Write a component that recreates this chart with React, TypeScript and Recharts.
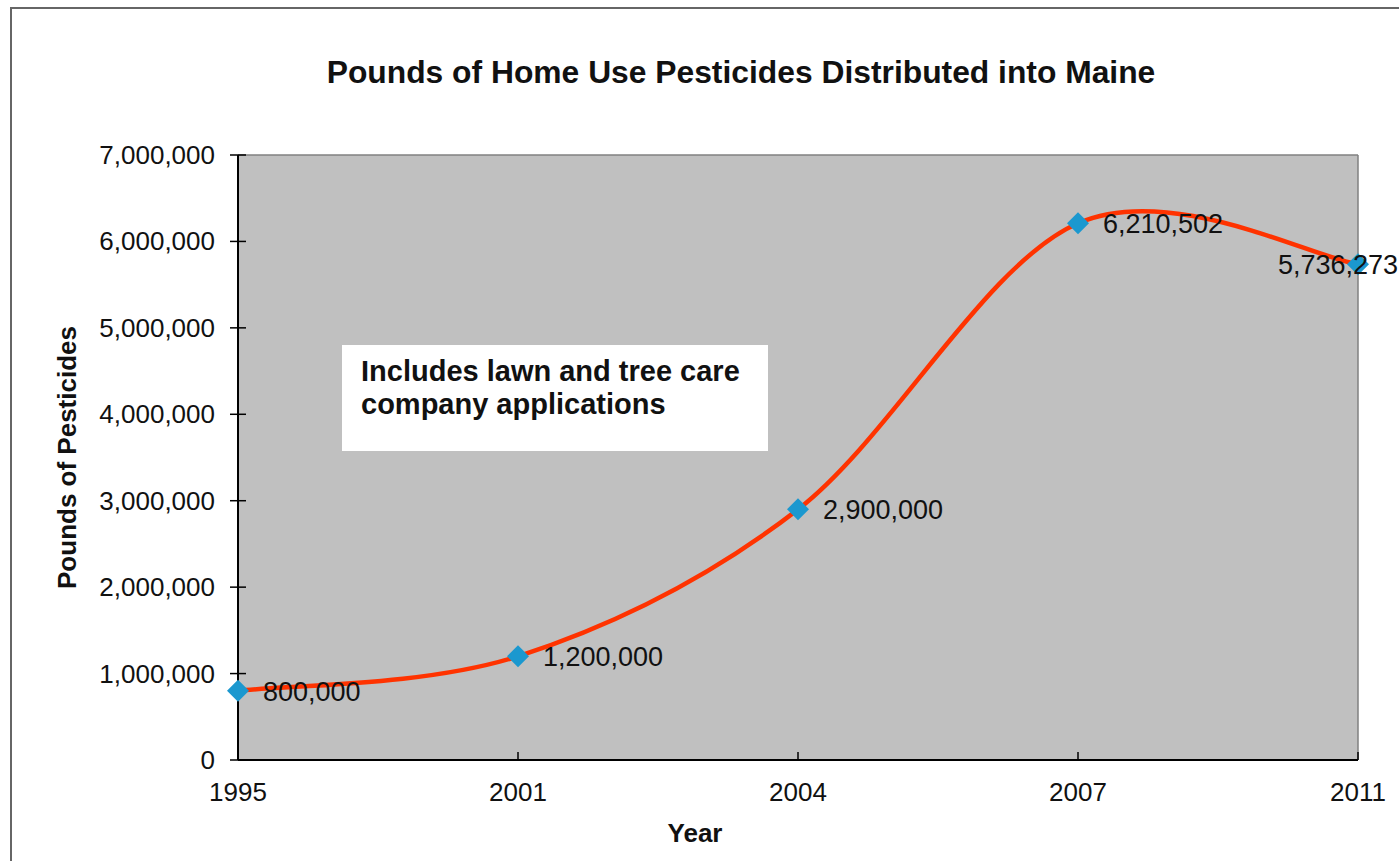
import { LineChart, Line, XAxis, YAxis, CartesianGrid, ReferenceLine, LabelList } from 'recharts';

/* ================= DATA ================= */
const YEARS = ['1995', '2001', '2004', '2007', '2011'];
const POUNDS = [800000, 1200000, 2900000, 6210502, 5736273];
const Y_TICKS = [0, 1000000, 2000000, 3000000, 4000000, 5000000, 6000000, 7000000];

const chartData = YEARS.map((year, i) => ({ year, pounds: POUNDS[i] }));

/* ================= HELPERS ================= */
const FONT = '"Liberation Sans", Arial, sans-serif';
const TICK = 8;
const Y_MARGIN = 15;
const X_MARGIN = 14;

const fmt = (v: number) => v.toLocaleString('en-US');

// excel style smoothed line (catmull-rom as bezier)
const excelCurve = (context: any) => {
  let pts: number[][] = [];
  return {
    areaStart() {},
    areaEnd() {},
    lineStart() {
      pts = [];
    },
    point(x: number, y: number) {
      pts.push([+x, +y]);
    },
    lineEnd() {
      if (!pts.length) return;
      context.moveTo(pts[0][0], pts[0][1]);
      for (let i = 0; i < pts.length - 1; i++) {
        const p0 = pts[Math.max(i - 1, 0)];
        const p1 = pts[i];
        const p2 = pts[i + 1];
        const p3 = pts[Math.min(i + 2, pts.length - 1)];
        context.bezierCurveTo(
          p1[0] + (p2[0] - p0[0]) / 6,
          p1[1] + (p2[1] - p0[1]) / 6,
          p2[0] - (p3[0] - p1[0]) / 6,
          p2[1] - (p3[1] - p1[1]) / 6,
          p2[0],
          p2[1]
        );
      }
    },
  };
};

const YTick = (props: any) => {
  const { x, y, payload } = props;
  const axisX = x + TICK + Y_MARGIN;
  return (
    <g>
      <line x1={axisX} x2={axisX + TICK} y1={y} y2={y} stroke="#000" strokeWidth={1.5} />
      <text x={x} y={y} dy={9} textAnchor="end" fontFamily={FONT} fontSize={26} fill="#111">
        {fmt(payload.value)}
      </text>
    </g>
  );
};

const XTick = (props: any) => {
  const { x, y, payload } = props;
  const axisY = y - TICK - X_MARGIN;
  return (
    <g>
      <line x1={x} x2={x} y1={axisY - TICK} y2={axisY} stroke="#000" strokeWidth={1.5} />
      <text x={x} y={y} dy={19} textAnchor="middle" fontFamily={FONT} fontSize={26} fill="#111">
        {payload.value}
      </text>
    </g>
  );
};

const Diamond = (props: any) => {
  const { cx, cy, index } = props;
  const r = 11;
  return (
    <path
      key={`d-${index}`}
      d={`M${cx},${cy - r}L${cx + r},${cy}L${cx},${cy + r}L${cx - r},${cy}Z`}
      fill="#1B98CF"
    />
  );
};

const ValueLabel = (props: any) => {
  const { x, y, value, index } = props;
  const last = index === POUNDS.length - 1;
  return (
    <text
      x={last ? x - 80 : x + 25}
      y={y}
      dy={10}
      fontFamily={FONT}
      fontSize={27}
      fill="#111"
    >
      {fmt(value)}
    </text>
  );
};

/* ================= COMPONENT ================= */
export default function App() {
  return (
    <div
      style={{
        position: 'absolute',
        left: 0,
        top: 0,
        width: 1399,
        height: 861,
        overflow: 'hidden',
        background: '#fff',
        fontFamily: FONT,
      }}
    >
      {/* chart frame */}
      <div
        style={{
          position: 'absolute',
          left: 10,
          top: 7,
          width: 1500,
          height: 1000,
          border: '2px solid #666',
        }}
      />

      <div style={{ position: 'absolute', left: 0, top: 0 }}>
        <LineChart
          width={1399}
          height={861}
          data={chartData}
          margin={{ top: 155, right: 41, bottom: 0, left: 0 }}
        >
          <CartesianGrid fill="#C0C0C0" horizontal={false} vertical={false} />
          <ReferenceLine y={7000000} stroke="#808080" strokeWidth={1.5} />
          <ReferenceLine x="2011" stroke="#808080" strokeWidth={1.5} />
          <XAxis
            dataKey="year"
            height={101}
            tickSize={TICK}
            tickMargin={X_MARGIN}
            tick={<XTick />}
            tickLine={false}
            axisLine={{ stroke: '#000', strokeWidth: 2 }}
            interval={0}
          />
          <YAxis
            width={238}
            domain={[0, 7000000]}
            ticks={Y_TICKS}
            tickSize={TICK}
            tickMargin={Y_MARGIN}
            tick={<YTick />}
            tickLine={{ stroke: '#000', strokeWidth: 1.5 }}
            axisLine={{ stroke: '#000', strokeWidth: 2 }}
            label={{
              value: 'Pounds of Pesticides',
              angle: -90,
              position: 'insideLeft',
              offset: 67,
              style: {
                textAnchor: 'middle',
                fontFamily: FONT,
                fontSize: 26,
                fontWeight: 'bold',
                fill: '#111',
              },
            }}
          />
          <Line
            type={excelCurve as any}
            dataKey="pounds"
            stroke="#FF3300"
            strokeWidth={4.5}
            dot={<Diamond />}
            activeDot={false}
            isAnimationActive={false}
          >
            <LabelList dataKey="pounds" content={<ValueLabel />} />
          </Line>
        </LineChart>
      </div>

      {/* title */}
      <div
        style={{
          position: 'absolute',
          left: 0,
          width: 1482,
          top: 57,
          textAlign: 'center',
          fontSize: 31.8,
          lineHeight: '31px',
          fontWeight: 'bold',
          color: '#111',
          whiteSpace: 'nowrap',
        }}
      >
        Pounds of Home Use Pesticides Distributed into Maine
      </div>

      {/* x axis title */}
      <div
        style={{
          position: 'absolute',
          left: 595,
          width: 200,
          top: 820,
          textAlign: 'center',
          fontSize: 26,
          lineHeight: '26px',
          fontWeight: 'bold',
          color: '#111',
        }}
      >
        Year
      </div>

      {/* note box */}
      <div
        style={{
          position: 'absolute',
          left: 342,
          top: 345,
          width: 426,
          height: 106,
          boxSizing: 'border-box',
          background: '#fff',
          padding: '10px 0 0 19px',
          fontSize: 29,
          lineHeight: '33px',
          fontWeight: 'bold',
          color: '#111',
          whiteSpace: 'nowrap',
        }}
      >
        Includes lawn and tree care
        <br />
        company applications
      </div>
    </div>
  );
}
